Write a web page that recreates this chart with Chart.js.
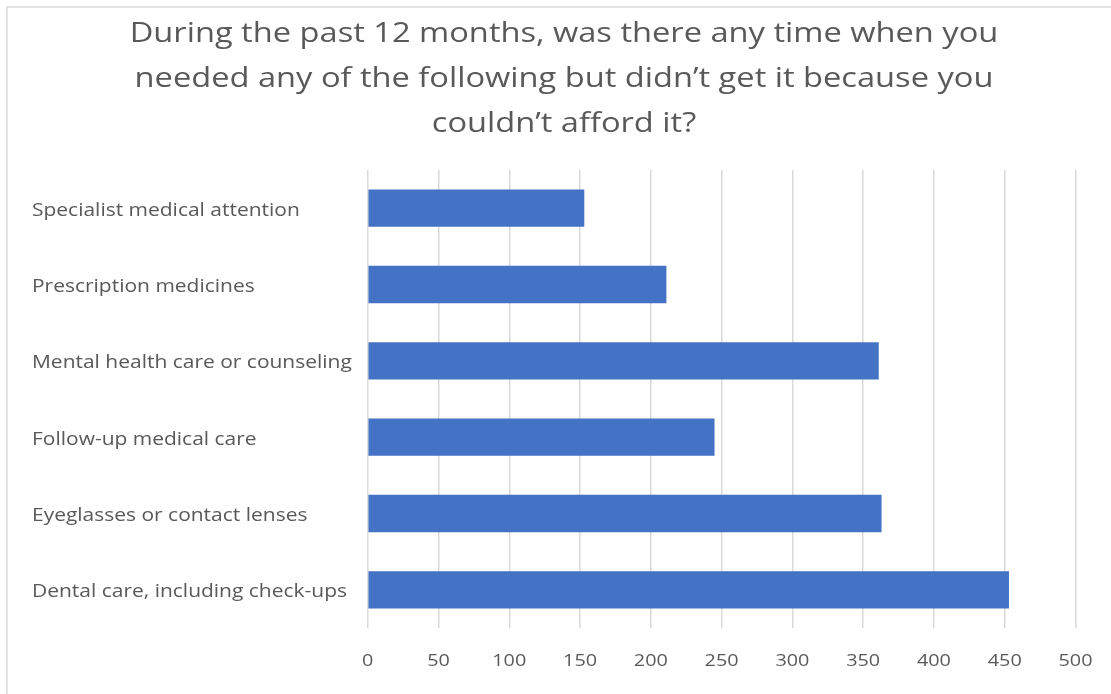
<!DOCTYPE html>
<html>
<head>
<meta charset="utf-8">
<script src="https://cdn.jsdelivr.net/npm/chart.js@4.4.1/dist/chart.umd.min.js"></script>
<style>
html,body{margin:0;padding:0;background:#fff;}
#wrap{position:absolute;left:0;top:0;width:1111px;height:694px;}
</style>
</head>
<body>
<div id="wrap"><canvas id="c" width="1111" height="694"></canvas></div>
<script>
const titleLines = [
  "During the past 12 months, was there any time when you",
  "needed any of the following but didn’t get it because you",
  "couldn’t afford it?"
];
const categories = [
  "Specialist medical attention",
  "Prescription medicines",
  "Mental health care or counseling",
  "Follow-up medical care",
  "Eyeglasses or contact lenses",
  "Dental care, including check-ups"
];
const values = [153, 211, 361, 245, 363, 453];
const xTicks = [0, 50, 100, 150, 200, 250, 300, 350, 400, 450, 500];

const FONT = "'Open Sans', 'Noto Sans', sans-serif";
const TEXT = "#595959";
const SX = 1.165; // horizontal text widening to match the reference glyph proportions
const LABEL_DY = 2.5; // visual baseline nudge for the category labels
const PLOT_LEFT = 367.7, PLOT_RIGHT = 1075.5;

const canvas = document.getElementById('c');
const ctx2d = canvas.getContext('2d');
const P = CanvasRenderingContext2D.prototype;
ctx2d.fillText = function (t, x, y, mw) {
  const dy = (this.textBaseline === 'middle' && /\b18px\b/.test(this.font)) ? LABEL_DY : 0;
  this.save();
  this.translate(x, y + dy);
  this.scale(SX, 1);
  if (mw !== undefined) P.fillText.call(this, t, 0, 0, mw / SX);
  else P.fillText.call(this, t, 0, 0);
  this.restore();
};
ctx2d.measureText = function (t) {
  const m = P.measureText.call(this, t);
  return {
    width: m.width * SX,
    actualBoundingBoxAscent: m.actualBoundingBoxAscent,
    actualBoundingBoxDescent: m.actualBoundingBoxDescent,
    actualBoundingBoxLeft: m.actualBoundingBoxLeft * SX,
    actualBoundingBoxRight: m.actualBoundingBoxRight * SX
  };
};

const frame = {
  id: 'frame',
  afterLayout(chart) {
    // left-aligned category labels start at x = 32
    chart.scales.y.left = 32;
    // pin the value axis to the reference's plot width
    const xs = chart.scales.x;
    xs.left = PLOT_LEFT;
    xs.right = PLOT_RIGHT;
    xs.width = PLOT_RIGHT - PLOT_LEFT;
    xs.configure();
    chart.chartArea.left = PLOT_LEFT;
    chart.chartArea.right = PLOT_RIGHT;
    chart.chartArea.width = PLOT_RIGHT - PLOT_LEFT;
  },
  beforeDraw(chart) {
    const ctx = chart.ctx;
    ctx.save();
    ctx.fillStyle = '#ffffff';
    ctx.fillRect(0, 0, chart.width, chart.height);
    ctx.strokeStyle = '#e3e3e3';
    ctx.lineWidth = 2;
    ctx.beginPath();
    ctx.moveTo(7, 694);
    ctx.lineTo(7, 7);
    ctx.lineTo(1111, 7);
    ctx.stroke();
    ctx.restore();
  }
};

new Chart(canvas, {
  type: 'bar',
  data: {
    labels: categories,
    datasets: [{
      data: values,
      backgroundColor: '#4472C4',
      borderWidth: 0,
      barPercentage: 0.49,
      categoryPercentage: 1.0
    }]
  },
  plugins: [frame],
  options: {
    indexAxis: 'y',
    responsive: false,
    animation: false,
    devicePixelRatio: 1,
    layout: { padding: { left: 45, right: 28, top: 0, bottom: 0 } },
    plugins: {
      legend: { display: false },
      tooltip: { enabled: false },
      title: {
        display: true,
        text: titleLines,
        color: TEXT,
        font: { family: FONT, size: 28, weight: 'normal', lineHeight: 1.6 },
        padding: { top: 12, bottom: 23.6 }
      }
    },
    scales: {
      x: {
        min: 0,
        max: 500,
        afterBuildTicks(axis) { axis.ticks = xTicks.map(v => ({ value: v })); },
        afterFit(axis) { axis.height = 694 - 628; },
        grid: { color: '#d9d9d9', lineWidth: 1.5, drawTicks: false },
        border: { display: false },
        ticks: {
          color: TEXT,
          padding: 22.5,
          font: { family: FONT, size: 17 }
        }
      },
      y: {
        afterFit(axis) { axis.width = PLOT_LEFT - 45; },
        grid: { display: false },
        border: { display: false },
        ticks: {
          crossAlign: 'far',
          color: TEXT,
          font: { family: FONT, size: 18 }
        }
      }
    }
  }
});
</script>
</body>
</html>
